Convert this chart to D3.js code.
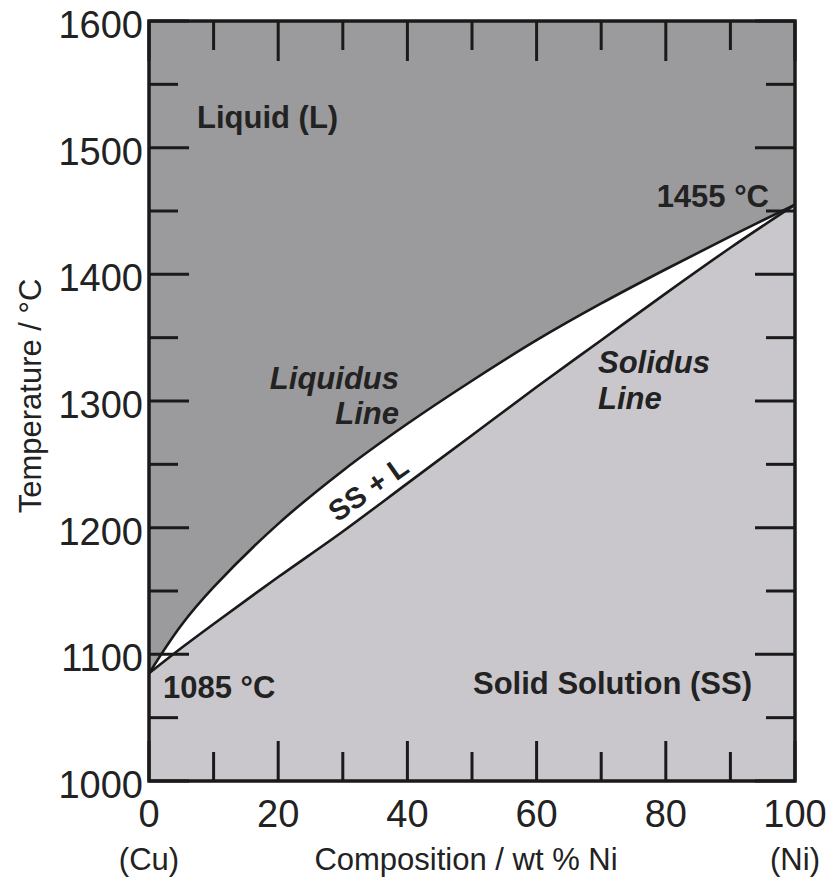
<!DOCTYPE html>
<html lang="en">
<head>
    <meta charset="UTF-8">
    <script src="https://cdn.jsdelivr.net/npm/d3@7"></script>
    <title>Cu-Ni Phase Diagram</title>
    <style>
        body { margin: 0; background: #fff; }
        text { font-family: "Liberation Sans", Arial, sans-serif; fill: #222; }
    </style>
</head>
<body>
<script>
// composition (wt % Ni) and temperatures
let composition = [0, 5, 10, 20, 30, 40, 50, 60, 70, 80, 90, 100]
let liquidus = [1085, 1123, 1153, 1203, 1245, 1282, 1316, 1348, 1377, 1404, 1430, 1455]
let solidus = [1085, 1105, 1124, 1161, 1197, 1235, 1273, 1311, 1348, 1385, 1421, 1455]

let xTicks = [0, 20, 40, 60, 80, 100]
let xMinor = [10, 30, 50, 70, 90]
let yTicks = [1000, 1100, 1200, 1300, 1400, 1500, 1600]
let yMinor = [1050, 1150, 1250, 1350, 1450, 1550]

let width = 832
let height = 880
let mLeft = 149, mRight = 795, mTop = 21, mBottom = 781

let svg = d3.select("body").append("svg")
    .attr("width", width)
    .attr("height", height)

let x = d3.scaleLinear().domain([0, 100]).range([mLeft, mRight])
let y = d3.scaleLinear().domain([1000, 1600]).range([mBottom, mTop])

let liq = composition.map((c, i) => [c, liquidus[i]])
let sol = composition.map((c, i) => [c, solidus[i]])

// liquid background
svg.append("rect")
    .attr("x", mLeft).attr("y", mTop)
    .attr("width", mRight - mLeft).attr("height", mBottom - mTop)
    .attr("fill", "#9b9a9d")

let curve = d3.curveCatmullRom.alpha(0.5)

// two-phase region (white) below the liquidus
svg.append("path")
    .attr("d", d3.area().x(d => x(d[0])).y0(y(1000)).y1(d => y(d[1])).curve(curve)(liq))
    .attr("fill", "#ffffff")

// solid solution below the solidus
svg.append("path")
    .attr("d", d3.area().x(d => x(d[0])).y0(y(1000)).y1(d => y(d[1])).curve(curve)(sol))
    .attr("fill", "#c9c7cb")

let line = d3.line().x(d => x(d[0])).y(d => y(d[1])).curve(curve)
svg.append("path").attr("d", line(liq))
    .attr("fill", "none").attr("stroke", "#1a1a1a").attr("stroke-width", 2.6)
svg.append("path").attr("d", line(sol))
    .attr("fill", "none").attr("stroke", "#1a1a1a").attr("stroke-width", 2.6)

// inward ticks on all four sides
let major = 40, minor = 29
let tickG = svg.append("g").attr("stroke", "#1a1a1a").attr("stroke-width", 3)
xTicks.concat(xMinor).forEach(v => {
    let len = xTicks.includes(v) ? major : minor
    tickG.append("line").attr("x1", x(v)).attr("x2", x(v)).attr("y1", mBottom).attr("y2", mBottom - len)
    tickG.append("line").attr("x1", x(v)).attr("x2", x(v)).attr("y1", mTop).attr("y2", mTop + len)
})
yTicks.concat(yMinor).forEach(v => {
    let len = yTicks.includes(v) ? major : minor
    tickG.append("line").attr("y1", y(v)).attr("y2", y(v)).attr("x1", mLeft).attr("x2", mLeft + len)
    tickG.append("line").attr("y1", y(v)).attr("y2", y(v)).attr("x1", mRight).attr("x2", mRight - len)
})

// frame
svg.append("rect")
    .attr("x", mLeft).attr("y", mTop)
    .attr("width", mRight - mLeft).attr("height", mBottom - mTop)
    .attr("fill", "none").attr("stroke", "#1a1a1a").attr("stroke-width", 3.5)

// tick labels
svg.append("g").selectAll("text").data(yTicks).join("text")
    .attr("x", mLeft - 6).attr("y", d => y(d) + 17)
    .attr("text-anchor", "end").attr("font-size", 38)
    .text(d => d)

svg.append("g").selectAll("text").data(xTicks).join("text")
    .attr("x", d => x(d)).attr("y", mBottom + 46)
    .attr("text-anchor", "middle").attr("font-size", 38)
    .text(d => d)

// axis titles
svg.append("text").attr("x", x(0)).attr("y", 870)
    .attr("text-anchor", "middle").attr("font-size", 31).text("(Cu)")
svg.append("text").attr("x", x(100)).attr("y", 870)
    .attr("text-anchor", "middle").attr("font-size", 31).text("(Ni)")
svg.append("text").attr("x", 466).attr("y", 870)
    .attr("text-anchor", "middle").attr("font-size", 31).text("Composition / wt % Ni")
svg.append("text")
    .attr("transform", "translate(41,396) rotate(-90)")
    .attr("text-anchor", "middle").attr("font-size", 31).text("Temperature / °C")

// region labels
let label = (tx, ty, s, opts) => {
    let t = svg.append("text").attr("x", tx).attr("y", ty)
        .attr("font-size", 31).attr("font-weight", "bold").text(s)
    if (opts && opts.anchor) t.attr("text-anchor", opts.anchor)
    if (opts && opts.italic) t.attr("font-style", "italic")
    return t
}
label(197, 128, "Liquid (L)")
label(473, 694, "Solid Solution (SS)")
label(769, 207, "1455 °C", { anchor: "end" })
label(163, 698, "1085 °C")
label(399, 389, "Liquidus", { anchor: "end", italic: true })
label(399, 424, "Line", { anchor: "end", italic: true })
label(598, 373, "Solidus", { italic: true })
label(598, 409, "Line", { italic: true })

svg.append("text")
    .attr("transform", "translate(374,497) rotate(-35)")
    .attr("text-anchor", "middle").attr("font-size", 29).attr("font-weight", "bold")
    .text("SS + L")
</script>
</body>
</html>
